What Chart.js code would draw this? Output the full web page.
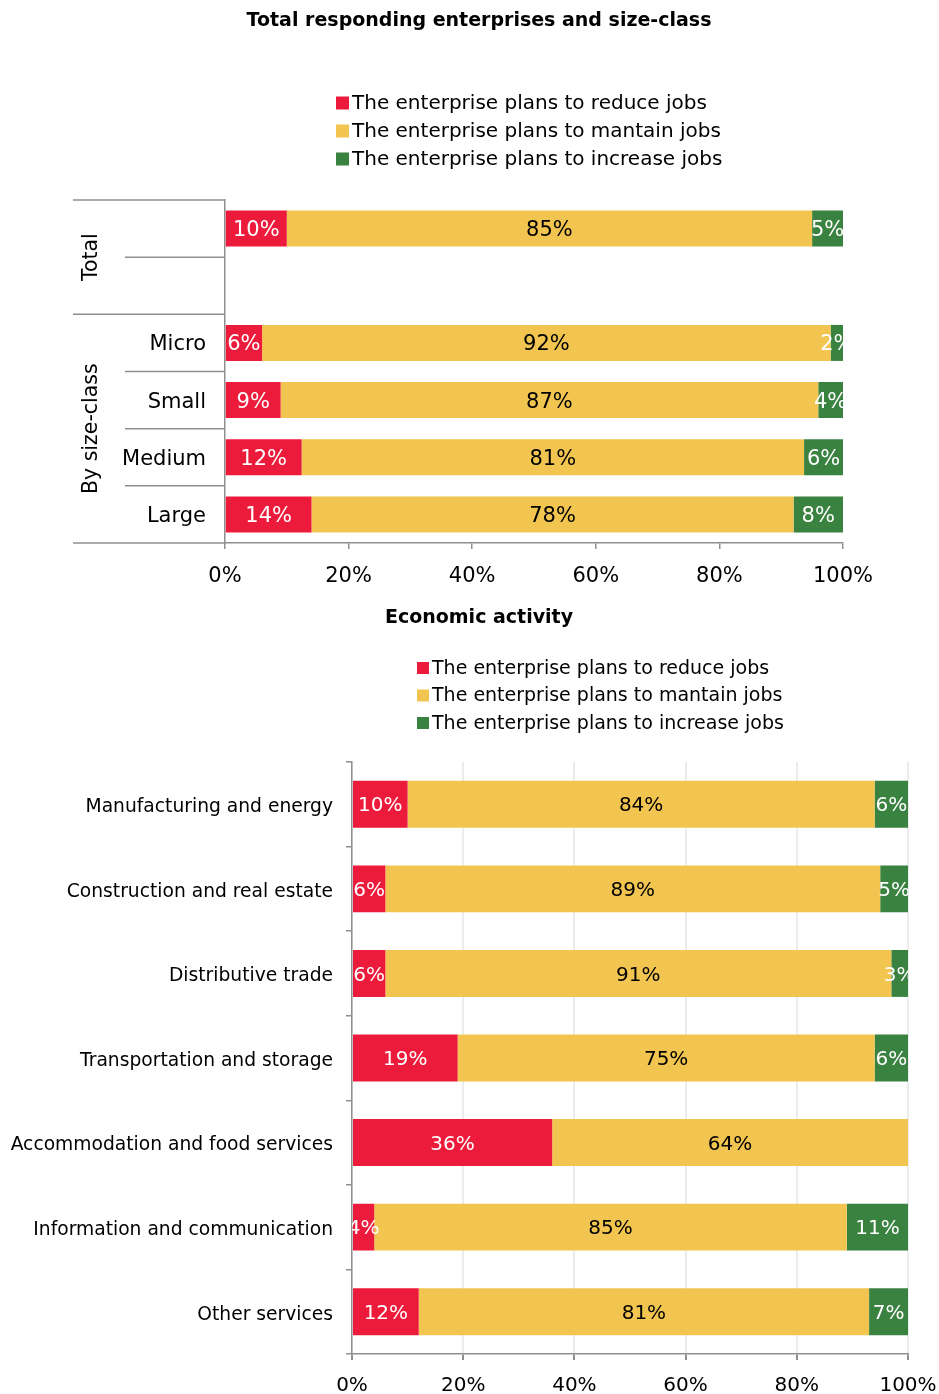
<!DOCTYPE html>
<html>
<head>
<meta charset="utf-8">
<script src="https://cdn.jsdelivr.net/npm/chart.js@4.4.1/dist/chart.umd.min.js"></script>
<style>
  body { margin: 0; background: #fff; }
  .box { position: absolute; left: 0; width: 939px; }
</style>
</head>
<body>
<div class="box" style="top:0;height:600px"><canvas id="sizeChart" width="939" height="600"></canvas></div>
<div class="box" style="top:600px;height:794px"><canvas id="activityChart" width="939" height="794"></canvas></div>
<script>
const seriesNames = ["The enterprise plans to reduce jobs", "The enterprise plans to mantain jobs", "The enterprise plans to increase jobs"];
const seriesColors = ["#ED1B3B", "#F2C550", "#3A8240"];
const labelColors = ["#fff", "#000", "#fff"];

// size-class chart: two groups, the Total group has an empty second row
const sizeLabels = ["", "", "Micro", "Small", "Medium", "Large"];
const sizeGroups = ["Total", "By size-class"];
const sizeGroupSpans = [2, 4];
const sizeReduce = [10, null, 6, 9, 12.4, 14];
const sizeMaintain = [85, null, 92, 87, 81.3, 78];
const sizeIncrease = [5, null, 2, 4, 6.3, 8];

// economic activity chart
const activityLabels = ["Manufacturing and energy", "Construction and real estate", "Distributive trade",
  "Transportation and storage", "Accommodation and food services", "Information and communication", "Other services"];
const actReduce = [10, 6, 6, 19, 36, 4, 12];
const actMaintain = [84, 89, 91, 75, 64, 85, 81];
const actIncrease = [6, 5, 3, 6, 0, 11, 7];

const pctMin = 0, pctMax = 100, pctStep = 20;

const FONT = '"DejaVu Sans", Verdana, sans-serif';
const AXIS = '#8f8f8f';

// title + vertical legend
const headerPlugin = {
  id: 'header',
  afterDraw(chart, args, o) {
    const ctx = chart.ctx;
    ctx.save();
    ctx.fillStyle = '#000';
    ctx.font = 'bold ' + o.titleSize + 'px ' + FONT;
    ctx.textAlign = 'center';
    ctx.textBaseline = 'middle';
    ctx.fillText(o.title, o.titleX, o.titleY);
    ctx.font = o.legendSize + 'px ' + FONT;
    ctx.textAlign = 'left';
    chart.data.datasets.forEach((ds, i) => {
      const y = o.legendY + i * o.rowH;
      ctx.fillStyle = ds.backgroundColor;
      ctx.fillRect(o.legendX, y - o.box / 2, o.box, o.box);
      ctx.fillStyle = '#000';
      ctx.fillText(ds.label, o.legendX + o.box + 3, y + 1);
    });
    ctx.restore();
  }
};

// rounded percentage labels centred in each segment, clipped to the plot
const valueLabels = {
  id: 'valueLabels',
  afterDatasetsDraw(chart, args, o) {
    const { ctx, chartArea: a } = chart;
    ctx.save();
    ctx.beginPath();
    ctx.rect(a.left, a.top, a.right - a.left, a.bottom - a.top);
    ctx.clip();
    ctx.font = o.size + 'px ' + FONT;
    ctx.textAlign = 'center';
    ctx.textBaseline = 'middle';
    chart.data.datasets.forEach((ds, i) => {
      ctx.fillStyle = labelColors[i];
      chart.getDatasetMeta(i).data.forEach((bar, j) => {
        const v = ds.data[j];
        if (!v) return;
        ctx.fillText(Math.round(v) + '%', (bar.x + bar.base) / 2, bar.y + o.dy);
      });
    });
    ctx.restore();
  }
};

// two-level category axis: divider lines and rotated group names
const groupAxis = {
  id: 'groupAxis',
  afterDraw(chart, args, o) {
    const { ctx, chartArea: a } = chart;
    const slot = (a.bottom - a.top) / chart.data.labels.length;
    ctx.save();
    ctx.strokeStyle = AXIS;
    ctx.lineWidth = 1.5;
    const line = (y, x0) => { ctx.beginPath(); ctx.moveTo(x0, y); ctx.lineTo(a.left, y); ctx.stroke(); };
    line(a.top, o.outerX);
    let idx = 0;
    o.spans.forEach((n, g) => {
      const y0 = a.top + idx * slot;
      for (let k = 1; k < n; k++) line(y0 + k * slot, o.innerX);
      idx += n;
      const y1 = a.top + idx * slot;
      line(y1, o.outerX);
      ctx.save();
      ctx.translate(o.labelX, (y0 + y1) / 2);
      ctx.rotate(-Math.PI / 2);
      ctx.fillStyle = '#000';
      ctx.font = o.size + 'px ' + FONT;
      ctx.textAlign = 'center';
      ctx.textBaseline = 'middle';
      ctx.fillText(o.groups[g], 0, 0);
      ctx.restore();
    });
    ctx.restore();
  }
};

function makeDatasets(series) {
  return series.map((data, i) => ({
    label: seriesNames[i],
    data: data,
    backgroundColor: seriesColors[i]
  }));
}

// keep the plot edges fixed regardless of the end tick labels
function noEdgePadding(s) {
  s.paddingLeft = 0;
  s.paddingRight = 0;
}

// Total and size-class
new Chart(document.getElementById("sizeChart"), {
  type: "bar",
  data: {
    labels: sizeLabels,
    datasets: makeDatasets([sizeReduce, sizeMaintain, sizeIncrease])
  },
  options: {
    indexAxis: 'y',
    responsive: false,
    animation: false,
    layout: { padding: { top: 200, right: 96, bottom: 7, left: 0 } },
    datasets: { bar: { barPercentage: 0.63, categoryPercentage: 1 } },
    scales: {
      x: {
        stacked: true, min: pctMin, max: pctMax,
        ticks: { stepSize: pctStep, callback: v => v + '%', color: '#000', font: { family: FONT, size: 21 }, padding: 15, maxRotation: 0 },
        grid: { drawOnChartArea: false, tickLength: 6, tickColor: AXIS, lineWidth: 1.5 },
        border: { color: AXIS, width: 1.5 },
        afterFit: s => { s.height = 50; noEdgePadding(s); }
      },
      y: {
        stacked: true,
        grid: { display: false, drawTicks: false },
        border: { color: AXIS, width: 1.5 },
        ticks: { color: '#000', font: { family: FONT, size: 21 }, padding: 19, autoSkip: false, labelOffset: 2 },
        afterFit: s => { s.width = 225; }
      }
    },
    plugins: {
      legend: { display: false },
      tooltip: { enabled: false },
      header: { title: "Total responding enterprises and size-class", titleSize: 19, titleX: 479, titleY: 21,
        legendSize: 20, legendX: 336, legendY: 103, rowH: 28, box: 13 },
      valueLabels: { size: 21, dy: 2 },
      groupAxis: { groups: sizeGroups, spans: sizeGroupSpans, outerX: 73, innerX: 125, labelX: 92, size: 20.5 }
    }
  },
  plugins: [headerPlugin, valueLabels, groupAxis]
});

// Economic activity
new Chart(document.getElementById("activityChart"), {
  type: "bar",
  data: {
    labels: activityLabels,
    datasets: makeDatasets([actReduce, actMaintain, actIncrease])
  },
  options: {
    indexAxis: 'y',
    responsive: false,
    animation: false,
    layout: { padding: { top: 162, right: 31, bottom: 0, left: 0 } },
    datasets: { bar: { barPercentage: 0.555, categoryPercentage: 1 } },
    scales: {
      x: {
        stacked: true, min: pctMin, max: pctMax,
        ticks: { stepSize: pctStep, callback: v => v + '%', color: '#000', font: { family: FONT, size: 20 }, padding: 14, maxRotation: 0 },
        grid: { color: '#ececec', tickLength: 6, tickColor: AXIS, lineWidth: 2 },
        border: { color: AXIS, width: 1.5 },
        afterFit: s => { s.height = 40; noEdgePadding(s); }
      },
      y: {
        stacked: true,
        grid: { drawOnChartArea: false, tickLength: 6, color: AXIS, lineWidth: 1.5 },
        border: { color: AXIS, width: 1.5 },
        ticks: { color: '#000', font: { family: FONT, size: 18.7 }, padding: 13, autoSkip: false, labelOffset: 3 },
        afterFit: s => { s.width = 352; }
      }
    },
    plugins: {
      legend: { display: false },
      tooltip: { enabled: false },
      header: { title: "Economic activity", titleSize: 19, titleX: 479, titleY: 18,
        legendSize: 19, legendX: 417, legendY: 68, rowH: 27.5, box: 12 },
      valueLabels: { size: 20, dy: 2 }
    }
  },
  plugins: [headerPlugin, valueLabels]
});
</script>
</body>
</html>
